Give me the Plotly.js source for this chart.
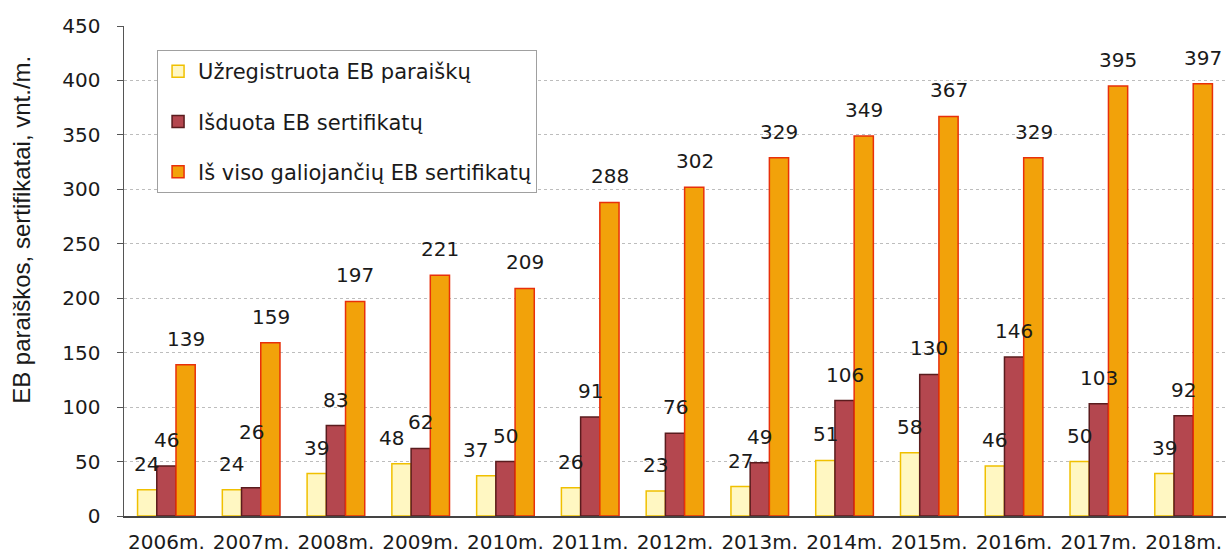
<!DOCTYPE html>
<html>
<head>
<meta charset="utf-8">
<script src="https://cdn.plot.ly/plotly-3.0.1.min.js"></script>
<style>html,body{margin:0;padding:0;background:#fff;}#chart{width:1227px;height:556px;}</style>
</head>
<body>
<div id="chart"></div>
<script>
const years = ["2006m.","2007m.","2008m.","2009m.","2010m.","2011m.","2012m.","2013m.","2014m.","2015m.","2016m.","2017m.","2018m."];
const registered = [24,24,39,48,37,26,23,27,51,58,46,50,39];
const issued = [46,26,83,62,50,91,76,49,106,130,146,103,92];
const valid = [139,159,197,221,209,288,302,329,349,367,329,395,397];
const seriesNames = ["Užregistruota EB paraiškų","Išduota EB sertifikatų","Iš viso galiojančių EB sertifikatų"];
const yTicks = [0,50,100,150,200,250,300,350,400,450];
const yTitle = 'EB paraiškos, sertifikatai, vnt./m.';

const FONT = '"DejaVu Sans", Arial, sans-serif';
const fills = ['#fff7c2', '#b4474f', '#f2a20a'];
const lines = ['#f0c000', '#5a1c1e', '#e8300a'];
const series = [registered, issued, valid];

const data = series.map((vals, i) => ({
  type:'bar', x: years, y: vals, name: seriesNames[i],
  legendgroup: 'g' + i,
  marker:{color: fills[i], line:{color: lines[i], width: 1.5}},
  hoverinfo:'skip'
}));

// value labels above bars; nudge labels that would collide with a neighbour
const barStep = 19.5;
const annotations = [];
series.forEach((vals, i) => {
  vals.forEach((v, j) => {
    let xs = (i - 1) * barStep, ys = 12;
    const diff = issued[j] - registered[j];
    if (i === 1 && Math.abs(diff) < 5) ys += 30;
    if (i === 0 && Math.abs(diff) >= 5 && Math.abs(diff) < 16) xs -= 10;
    annotations.push({
      x: years[j], y: v, xref:'x', yref:'y', text: String(v),
      showarrow:false, yanchor:'bottom', xanchor:'center',
      xshift: xs, yshift: ys,
      font:{family: FONT, size:20, color:'#1a1a1a'}
    });
  });
});
annotations.push({
  xref:'paper', yref:'paper', x:0, y:0.584, xanchor:'center', yanchor:'middle',
  xshift:-102, textangle:-90, showarrow:false, text: yTitle,
  font:{family:'Arial, "Liberation Sans", sans-serif', size:24, color:'#1a1a1a'}
});

const layout = {
  width:1227, height:556,
  margin:{l:124, r:1, t:26, b:40},
  paper_bgcolor:'#fff', plot_bgcolor:'#fff',
  font:{family: FONT, color:'#1a1a1a'},
  barmode:'group', bargap:0.32, bargroupgap:0,
  showlegend:true,
  annotations: annotations,
  legend:{
    x:0.03, y:0.951, xanchor:'left', yanchor:'top',
    bgcolor:'#fff', bordercolor:'#a0a0a0', borderwidth:1,
    font:{family: FONT, size:21, color:'#1a1a1a'},
    traceorder:'grouped', tracegroupgap:20,
    itemwidth:30
  },
  xaxis:{
    type:'category', showgrid:false, showline:true, linecolor:'#444', linewidth:1.5,
    ticks:'', tickfont:{family: FONT, size:20, color:'#1a1a1a'}, ticklabelstandoff:7, zeroline:false
  },
  yaxis:{
    range:[0,450], tickvals:yTicks, ticktext:yTicks.map(String),
    showgrid:true, gridcolor:'#bdbdbd', griddash:'dot', gridwidth:1,
    showline:true, linecolor:'#555', linewidth:1.5,
    ticks:'outside', ticklen:6, tickcolor:'#555',
    tickfont:{family: FONT, size:20, color:'#1a1a1a'}, ticklabelstandoff:12, zeroline:false
  }
};
Plotly.newPlot('chart', data, layout, {displayModeBar:false, staticPlot:true});
</script>
</body>
</html>
